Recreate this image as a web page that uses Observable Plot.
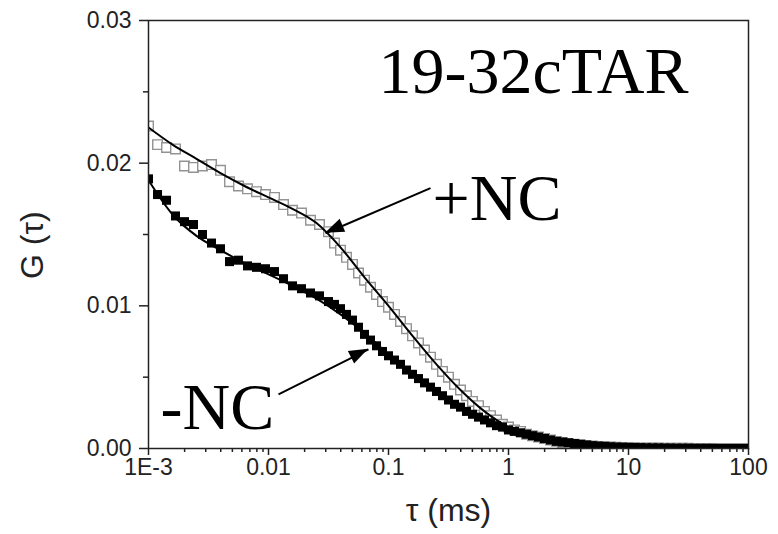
<!DOCTYPE html>
<html><head><meta charset="utf-8">
<script src="https://cdn.jsdelivr.net/npm/d3@7"></script>
<script src="https://cdn.jsdelivr.net/npm/@observablehq/plot@0.6"></script>
<style>body{margin:0;background:#fff} #chart svg{display:block}</style>
</head><body><div id="chart"></div>
<script>
// lag time (ms)
const tau = [0.001, 0.001189, 0.001413, 0.001679, 0.001995, 0.002371, 0.002818, 0.00335, 0.003981, 0.004732, 0.005623, 0.006683, 0.007943, 0.009441, 0.01122, 0.01334, 0.01585, 0.01884, 0.02239, 0.02661, 0.03162,
  0.03548, 0.03981, 0.04467, 0.05012, 0.05623, 0.0631, 0.07079, 0.07943, 0.08913, 0.1,
  0.1122, 0.1259, 0.1413, 0.1585, 0.1778, 0.1995, 0.2239, 0.2512, 0.2818, 0.3162, 0.3548, 0.3981, 0.4467, 0.5012, 0.5623, 0.631, 0.7079, 0.7943, 0.8913, 1,
  1.122, 1.259, 1.413, 1.585, 1.778, 1.995, 2.239, 2.512, 2.818, 3.162, 3.548, 3.981, 4.467, 5.012, 5.623, 6.31, 7.079, 7.943, 8.913, 10,
  11.22, 12.59, 14.13, 15.85, 17.78, 19.95, 22.39, 25.12, 28.18, 31.62, 35.48, 39.81, 44.67, 50.12, 56.23, 63.1, 70.79, 79.43, 89.13, 100];
// +NC (open squares)
const gPlus = [0.0226, 0.0213, 0.0211, 0.0210, 0.0198, 0.0197, 0.0198, 0.0199, 0.0195, 0.0187, 0.0184, 0.0182, 0.0180, 0.0178, 0.0176, 0.0171, 0.0167, 0.0165, 0.0160, 0.0157, 0.0152,
  0.0144, 0.0139, 0.0134, 0.0129, 0.0123, 0.0118, 0.0113, 0.0108, 0.0103, 0.0099,
  0.0094, 0.0089, 0.0084, 0.0079, 0.0074, 0.0069, 0.0064, 0.0059, 0.0054, 0.0050, 0.0045, 0.0041, 0.0037, 0.0033, 0.0030, 0.0026, 0.0023, 0.0020, 0.0017, 0.0015,
  0.0013, 0.0012, 0.0010, 0.0009, 0.0008, 0.0007, 0.0006, 0.0005, 0.00042, 0.00036, 0.0003, 0.00025, 0.0002, 0.00017, 0.00014, 0.00012, 0.0001, 0.00008, 0.00007, 0.00006,
  0.00005, 0.00004, 0.00004, 0.00003, 0.00003, 0.00002, 0.00002, 0.00001, 0.00001, 0.00001, 0, 0, 0, 0, 0, 0, 0, 0, 0, 0];
// -NC (filled squares)
const gMinus = [0.0189, 0.0178, 0.0174, 0.0163, 0.0159, 0.0157, 0.0150, 0.0144, 0.0140, 0.0131, 0.0132, 0.0128, 0.0127, 0.0126, 0.0124, 0.0119, 0.0114, 0.0112, 0.0109, 0.0107, 0.0103,
  0.0101, 0.0098, 0.0094, 0.0090, 0.0085, 0.0080, 0.0076, 0.0072, 0.0068, 0.0065,
  0.0062, 0.0059, 0.0055, 0.0052, 0.0049, 0.0046, 0.0043, 0.0040, 0.0037, 0.0034, 0.0031, 0.0029, 0.0026, 0.0024, 0.0022, 0.0020, 0.0018, 0.0016, 0.0015, 0.0013,
  0.0012, 0.0011, 0.0010, 0.0009, 0.0008, 0.0007, 0.0006, 0.0005, 0.00045, 0.0004, 0.00035, 0.0003, 0.00025, 0.0002, 0.00017, 0.00015, 0.00012, 0.0001, 0.00009, 0.00008,
  0.00007, 0.00006, 0.00005, 0.00004, 0.00004, 0.00003, 0.00003, 0.00002, 0.00002, 0.00002, 0.00001, 0.00001, 0.00001, 0.00001, 0, 0, 0, 0, 0, 0];
// fitted curves
const tauFit = [0.001, 0.001585, 0.002512, 0.003981, 0.00631, 0.01, 0.01585, 0.02512, 0.03981, 0.0631, 0.1, 0.1585, 0.2512, 0.3981, 0.631, 1, 1.585, 2.512, 3.981, 6.31, 10, 15.85, 25.12, 39.81, 63.1, 100];
const fitPlus = [0.0225, 0.0213, 0.0203, 0.0193, 0.0184, 0.0176, 0.0168, 0.0158, 0.0141, 0.0120, 0.0100, 0.0079, 0.0059, 0.0041, 0.0026, 0.0015, 0.0009, 0.0005, 0.00025, 0.00012, 0.00006, 0.00002, 0.00001, 0, 0, 0];
const fitMinus = [0.0188, 0.0164, 0.0149, 0.0139, 0.0130, 0.0122, 0.0114, 0.0105, 0.0094, 0.0081, 0.0066, 0.0052, 0.0039, 0.0028, 0.0019, 0.0012, 0.0007, 0.0004, 0.0002, 0.0001, 0.00005, 0, 0, 0, 0, 0];

const xTicks = [0.001, 0.01, 0.1, 1, 10, 100];
const xTickLabels = ["1E-3", "0.01", "0.1", "1", "10", "100"];
const yTicks = [0, 0.01, 0.02, 0.03];
const yTickLabels = ["0.00", "0.01", "0.02", "0.03"];
const yMinor = [0.005, 0.015, 0.025];
const xMinor = [];
for (const dec of [0.001, 0.01, 0.1, 1, 10]) for (let k = 2; k <= 9; k++) xMinor.push(+(dec * k).toPrecision(3));

const labels = [
  {text: "19-32cTAR", tau: 0.0826, g: 0.0249},
  {text: "+NC", tau: 0.233, g: 0.0160},
  {text: "-NC", tau: 0.00126, g: 0.0014}
];
const arrows = [
  {tau1: 0.2239, g1: 0.01825, tau2: 0.02985, g2: 0.01509},
  {tau1: 0.01212, g1: 0.00379, tau2: 0.0681, g2: 0.00695}
];
// axis titles, anchored in data space
const xTitle = {text: "τ (ms)", tau: 0.3162, g: -0.00508};
const yTitle = {text: "G (τ)", tau: 0.000108, g: 0.01425};

const plusData = tau.map((t, i) => ({tau: t, g: gPlus[i]}));
const minusData = tau.map((t, i) => ({tau: t, g: gMinus[i]}));
const fitPlusData = tauFit.map((t, i) => ({tau: t, g: fitPlus[i]}));
const fitMinusData = tauFit.map((t, i) => ({tau: t, g: fitMinus[i]}));

const sans = "Liberation Sans, Arial, Helvetica, sans-serif";
const serif = "Liberation Serif, Times New Roman, serif";
const ink = "#222";

function arrowHeads(index, scales) {
  const g = d3.create("svg:g");
  for (const a of arrows) {
    const x1 = scales.x(a.tau1), y1 = scales.y(a.g1);
    const x2 = scales.x(a.tau2), y2 = scales.y(a.g2);
    const dx = x2 - x1, dy = y2 - y1, len = Math.hypot(dx, dy);
    const ux = dx / len, uy = dy / len;
    const L = 19, W = 7;
    const bx = x2 - ux * L, by = y2 - uy * L;
    g.append("polygon")
      .attr("points", [[x2, y2], [bx - uy * W, by + ux * W], [bx + uy * W, by - ux * W]].map(p => p.join(",")).join(" "))
      .attr("fill", "black");
  }
  return g.node();
}

const plot = Plot.plot({
  width: 778,
  height: 534,
  marginLeft: 148,
  marginRight: 30,
  marginTop: 20,
  marginBottom: 86,
  style: {fontFamily: sans, background: "white"},
  x: {type: "log", domain: [0.001, 100]},
  y: {domain: [0, 0.03]},
  marks: [
    Plot.dot(plusData, {x: "tau", y: "g", symbol: "square", r: 5.4, fill: "white", stroke: "#939393", strokeWidth: 1.4, clip: true}),
    Plot.dot(minusData, {x: "tau", y: "g", symbol: "square", r: 5.1, fill: "black", stroke: "none", clip: true}),
    Plot.line(fitPlusData, {x: "tau", y: "g", stroke: "black", strokeWidth: 2, curve: "monotone-x", clip: true}),
    Plot.line(fitMinusData, {x: "tau", y: "g", stroke: "black", strokeWidth: 2, curve: "monotone-x", clip: true}),
    Plot.frame({stroke: ink, strokeWidth: 1.5}),
    Plot.axisY({ticks: yMinor, tickSize: 5, tickFormat: () => "", label: null, color: ink, strokeWidth: 1.5}),
    Plot.axisY({ticks: yTicks, tickSize: 9, tickPadding: 8, tickFormat: d => yTickLabels[yTicks.indexOf(d)], label: null, fontSize: 23, color: ink, strokeWidth: 1.5}),
    Plot.axisX({ticks: xMinor, tickSize: 4, tickFormat: () => "", label: null, color: ink, strokeWidth: 1.5}),
    Plot.axisX({ticks: xTicks, tickSize: 7, tickPadding: 3, tickFormat: d => xTickLabels[xTicks.indexOf(d)], label: null, fontSize: 23, color: ink, strokeWidth: 1.5}),
    Plot.text([xTitle], {x: "tau", y: "g", text: "text", lineAnchor: "bottom", fontSize: 32, fill: ink}),
    Plot.text([yTitle], {x: "tau", y: "g", text: "text", rotate: -90, fontSize: 32, fill: ink}),
    Plot.link(arrows, {x1: "tau1", y1: "g1", x2: "tau2", y2: "g2", stroke: "black", strokeWidth: 2}),
    arrowHeads,
    Plot.text(labels, {x: "tau", y: "g", text: "text", textAnchor: "start", lineAnchor: "bottom", fontFamily: serif, fontSize: 66, fill: "black"})
  ]
});
document.getElementById("chart").appendChild(plot);
</script>
</body></html>
